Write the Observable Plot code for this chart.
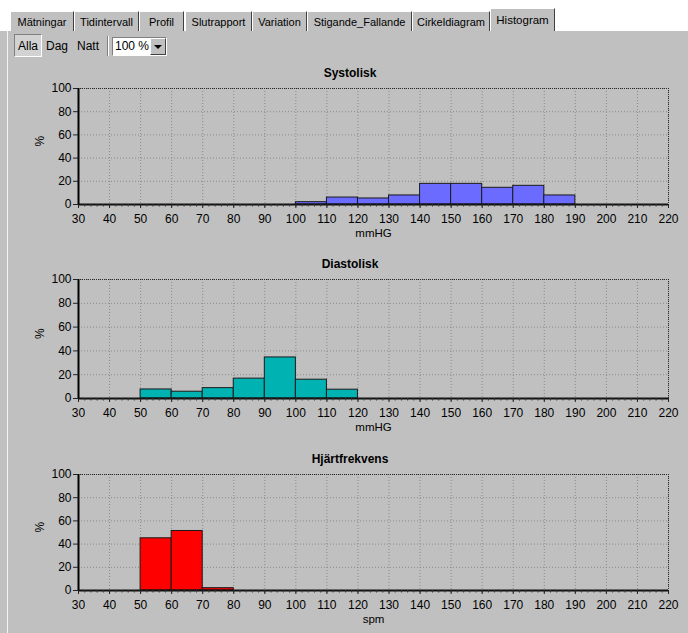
<!DOCTYPE html>
<html>
<head>
<meta charset="utf-8">
<script src="https://cdn.jsdelivr.net/npm/d3@7"></script>
<script src="https://cdn.jsdelivr.net/npm/@observablehq/plot@0.6"></script>
<style>
  html, body { margin: 0; padding: 0; }
  body { width: 688px; height: 633px; background: #fff; position: relative; overflow: hidden;
         font-family: "Liberation Sans", Arial, sans-serif; color: #000; }
  .panel { position: absolute; left: 0; top: 30px; width: 688px; height: 603px; background: #c0c0c0;
           border-top: 1px solid #fff; box-sizing: border-box; }
  .panel-left { position: absolute; left: 7px; top: 30px; width: 1px; height: 603px; background: #f4f4f4; }
  .tab { position: absolute; top: 11px; height: 20px; background: #c0c0c0; box-sizing: border-box;
         border-top: 1px solid #fff; border-left: 1px solid #fff; border-right: 1px solid #404040;
         font-size: 11px; text-align: center; line-height: 20px; white-space: nowrap; }
  .tab.sel { top: 8px; height: 23px; z-index: 2; line-height: 22px; font-size: 11.5px; }
  .btn { position: absolute; font-size: 12px; line-height: 22px; text-align: center; }
  .btn.pressed { background: #d2d2d2; border-top: 1px solid #808080; border-left: 1px solid #808080;
                 border-bottom: 1px solid #fff; border-right: 1px solid #fff; box-sizing: border-box; }
  .sep { position: absolute; left: 107px; top: 36px; width: 1px; height: 20px; background: #808080; border-right: 1px solid #fff; }
  .combo { position: absolute; left: 112px; top: 37px; width: 55px; height: 19px; background: #fff; box-sizing: border-box;
           border-top: 1px solid #808080; border-left: 1px solid #808080; border-bottom: 1px solid #fff; border-right: 1px solid #fff;
           font-size: 12px; line-height: 17px; padding-left: 2px; }
  .drop { position: absolute; right: 0px; top: 0px; width: 16px; height: 17px; background: #c0c0c0; box-sizing: border-box;
          border-top: 1px solid #fff; border-left: 1px solid #fff; border-bottom: 1px solid #404040; border-right: 1px solid #404040; }
  .drop::after { content: ""; position: absolute; left: 3px; top: 6px; border-left: 4px solid transparent;
                 border-right: 4px solid transparent; border-top: 4px solid #000; }
  .chart { position: absolute; left: 0; }
</style>
</head>
<body>
<div class="panel"></div>
<div class="panel-left"></div>
<div id="tabs"></div>
<div class="btn pressed" style="left:14px;top:34px;width:28px;height:23px;">Alla</div>
<div class="btn" style="left:45px;top:35px;width:24px;">Dag</div>
<div class="btn" style="left:76px;top:35px;width:24px;">Natt</div>
<div class="sep"></div>
<div class="combo">100 %<div class="drop"></div></div>
<div id="c1" class="chart" style="top:60px"></div>
<div id="c2" class="chart" style="top:251px"></div>
<div id="c3" class="chart" style="top:446px"></div>
<script>
// ---- data ----
const tabNames = ["Mätningar", "Tidintervall", "Profil", "Slutrapport", "Variation", "Stigande_Fallande", "Cirkeldiagram", "Histogram"];
const selectedTab = "Histogram";

const xTicks = [30, 40, 50, 60, 70, 80, 90, 100, 110, 120, 130, 140, 150, 160, 170, 180, 190, 200, 210, 220];
const yTicks = [0, 20, 40, 60, 80, 100];
const binStart = [30, 40, 50, 60, 70, 80, 90, 100, 110, 120, 130, 140, 150, 160, 170, 180, 190, 200, 210];

const systolisk     = [0, 0, 0, 0, 0, 0, 0, 2, 6, 5.2, 7.8, 17.8, 17.8, 14.4, 16.1, 7.8, 0, 0, 0];
const diastolisk    = [0, 0, 7.6, 5.7, 8.7, 16.7, 34.5, 15.8, 7.4, 0, 0, 0, 0, 0, 0, 0, 0, 0, 0];
const hjartfrekvens = [0, 0, 45, 51.3, 2, 0, 0, 0, 0, 0, 0, 0, 0, 0, 0, 0, 0, 0, 0];

// ---- tabs (layout) ----
const tabEdges = [10, 74, 139, 185, 252, 307, 412, 490, 555];
const tabsDiv = document.getElementById("tabs");
tabNames.forEach((name, i) => {
  const d = document.createElement("div");
  d.className = "tab" + (name === selectedTab ? " sel" : "");
  d.style.left = tabEdges[i] + "px";
  d.style.width = (tabEdges[i + 1] - tabEdges[i] - (i === 2 ? 1 : 0)) + "px";
  d.textContent = name;
  tabsDiv.appendChild(d);
});

// ---- charts ----
const minorTicks = d3.range(30, 221, 2);
const font = "'Liberation Sans', Arial, sans-serif";

function chart(values, color, title, xLabel, areaH) {
  const bars = binStart.map((b, i) => ({x1: b, x2: b + 10, y: values[i]})).filter(d => d.y > 0);
  return Plot.plot({
    width: 688,
    height: 28 + areaH + 40,
    marginLeft: 78,
    marginRight: 20,
    marginTop: 28,
    marginBottom: 40,
    style: {background: "transparent", fontFamily: font, fontSize: "12px", color: "#000", overflow: "visible"},
    x: {domain: [30, 220]},
    y: {domain: [0, 100]},
    marks: [
      Plot.gridX({ticks: xTicks, stroke: "#8a8a8a", strokeOpacity: 1, strokeDasharray: "1,2"}),
      Plot.gridY({ticks: yTicks, stroke: "#8a8a8a", strokeOpacity: 1, strokeDasharray: "1,2"}),
      Plot.rectY(bars, {x1: "x1", x2: "x2", y: "y", fill: color, stroke: "#1a1a1a", strokeWidth: 1}),
      Plot.ruleY([100], {stroke: "#2a2a2a", strokeDasharray: "1,1"}),
      Plot.ruleX([220], {stroke: "#2a2a2a", strokeDasharray: "1,1"}),
      Plot.ruleY([0], {stroke: "#111", strokeWidth: 2}),
      Plot.ruleX([30], {stroke: "#000", strokeWidth: 2}),
      Plot.axisX({ticks: minorTicks, tickSize: 2.5, tickFormat: () => "", label: null, stroke: "#333"}),
      Plot.axisX({ticks: xTicks, tickSize: 4, tickPadding: 6, label: null, stroke: "#222"}),
      Plot.axisY({ticks: yTicks, tickSize: 5, tickPadding: 2, label: null, stroke: "#222"}),
      Plot.text([xLabel], {text: d => d, frameAnchor: "bottom", lineAnchor: "middle", dy: 29, fontSize: 11.5}),
      Plot.text(["%"], {text: d => d, frameAnchor: "left", dx: -38, rotate: -90, fontSize: 12}),
      Plot.text([title], {text: d => d, frameAnchor: "top", lineAnchor: "middle", dy: -15, dx: -23.5,
                          fontWeight: "bold", fontSize: 12})
    ]
  });
}

document.getElementById("c1").appendChild(chart(systolisk, "#6b6bff", "Systolisk", "mmHG", 116));
document.getElementById("c2").appendChild(chart(diastolisk, "#00b2b2", "Diastolisk", "mmHG", 119));
document.getElementById("c3").appendChild(chart(hjartfrekvens, "#ff0000", "Hjärtfrekvens", "spm", 116));
</script>
</body>
</html>
